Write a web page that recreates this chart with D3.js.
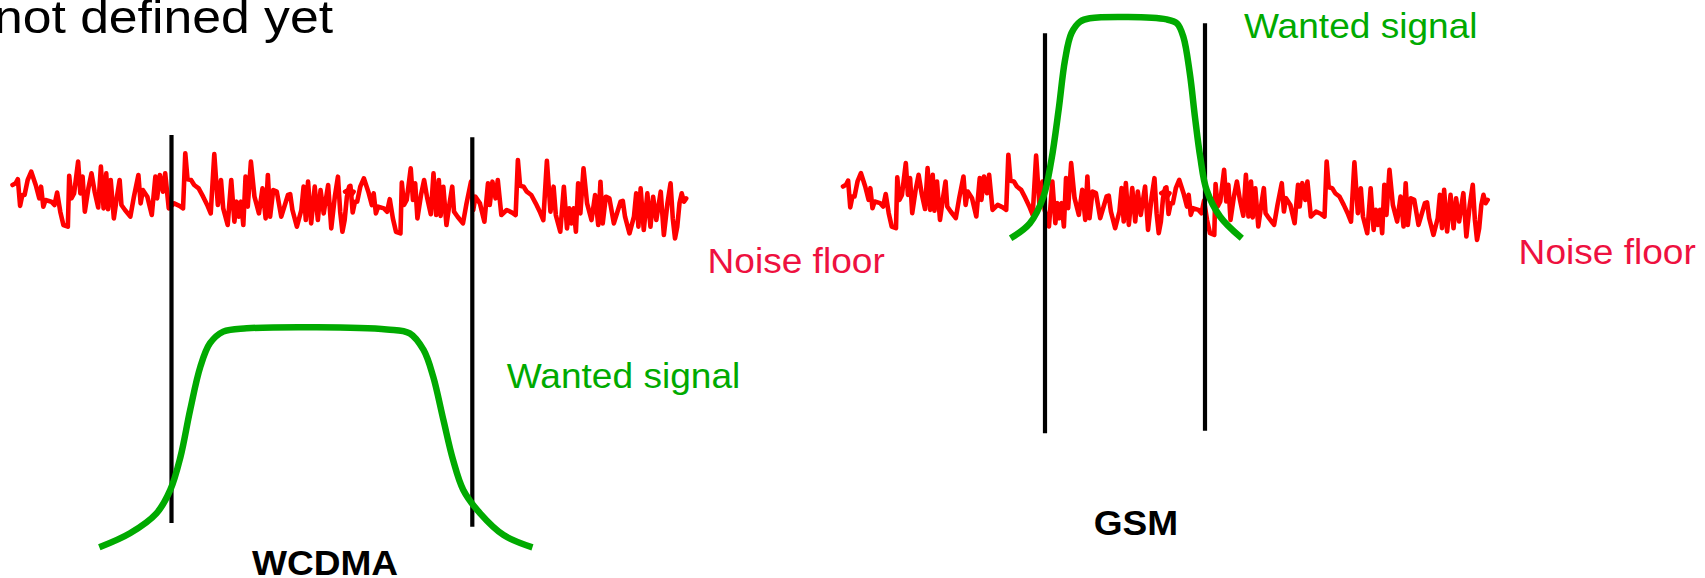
<!DOCTYPE html>
<html><head><meta charset="utf-8">
<script src="https://cdn.jsdelivr.net/npm/d3@7"></script>
<style>html,body{margin:0;padding:0;background:#fff;overflow:hidden}</style>
</head><body><svg id="c" width="1705" height="578"></svg>
<script>
// ---------- data ----------
// one noise trace tile (position within tile, relative level); it is repeated twice per panel
const noiseTileX = [0,7,12,17,22,27,34,42,52,60,64,69,74,87,94,100,107,114,124,127,132,138,147,152,157,162,170,177,184,192,198,204,210,214,220,227,234,240,244,252,264,272,282,287,292,302,312,320,324,330,337,342,350,362,374,382,387,392,400,407,417,427,437,444,452,460,467,472,482,490,497,502,507,512,517,522,527,534,542,552,560,567,572,577,584,592,602,617,622,627,637,647,652,657,662,669,677,684,690,697,707,714,722,729,734,739,744,749,754,759,764];
const noiseLevel = [62,64,69,37,50,50,68,78,62,46,60,36,44,42,38,53,30,14,12,73,46,52,90,52,72,30,58,76,54,35,84,34,76,33,68,22,48,68,38,32,24,48,74,40,56,48,26,72,46,74,54,76,34,40,37,34,100,69,68,62,58,48,37,28,99,38,68,34,14,68,18,42,24,42,14,72,36,90,48,28,58,22,74,24,56,54,24,50,51,32,12,32,60,20,66,16,60,20,56,28,62,10,48,72,30,6,20,48,60,50,54];
const tileSpan = 745;
const tileCopies = [0, 1];

// wanted signal spectra (frequency offset from channel centre in MHz, relative level)
const wcdmaFreq  = [-3.70,-3.19,-2.75,-2.52,-2.35,-2.19,-2.02,-1.86,-1.64,-1.25,1.08,1.46,1.69,1.85,2.02,2.18,2.35,2.63,3.02,3.50];
const wcdmaLevel = [0.0,0.64,1.55,2.62,4.14,6.27,8.25,9.32,9.85,10.0,9.95,9.77,9.01,7.79,5.81,3.99,2.62,1.55,0.56,0.0];
const gsmFreq  = [-0.143,-0.119,-0.102,-0.092,-0.083,-0.075,-0.067,-0.056,-0.044,0.052,0.065,0.073,0.081,0.0875,0.094,0.102,0.119,0.146];
const gsmLevel = [0.0,0.68,1.89,3.56,5.83,8.10,9.32,9.85,10.0,9.95,9.77,9.15,7.5,5.5,3.71,2.20,0.98,0.0];

// channel edges (MHz offset)
const wcdmaEdges = [-2.5, 2.5];
const gsmEdges = [-0.1, 0.1];

// texts
const systemNames = ["WCDMA", "GSM"];
const noiseLabel = "Noise floor";
const signalLabel = "Wanted signal";
const headerText = "not defined yet";

// ---------- drawing ----------
const svg = d3.select("#c");
svg.append("rect").attr("width",1705).attr("height",578).attr("fill","#fff");
const FONT = "'Liberation Sans', Arial, Helvetica, sans-serif";
const RED = "#ff0000", GREEN = "#00aa00", TXT_RED = "#ee1140";

const panels = [
  { name: systemNames[0], freq: wcdmaFreq, level: wcdmaLevel, edges: wcdmaEdges,
    noiseX: d3.scaleLinear().domain([0, tileSpan]).range([12.5, 345.1]),
    noiseY: [d3.scaleLinear().domain([0,100]).range([236.7,153.3]), d3.scaleLinear().domain([0,100]).range([243.4,160.0])],
    sigX: d3.scaleLinear().domain([-2.5, 2.5]).range([171.5, 472.3]),
    sigY: d3.scaleLinear().domain([0,10]).range([547.3, 328.3]),
    edgeTop: [135, 137.3], edgeBot: [523, 526.7],
    noiseLab: [707.5, 272.7], sigLab: [506.7, 388.3], nameLab: [325, 575] },
  { name: systemNames[1], freq: gsmFreq, level: gsmLevel, edges: gsmEdges,
    noiseX: d3.scaleLinear().domain([0, tileSpan]).range([843, 1161.3]),
    noiseY: [d3.scaleLinear().domain([0,100]).range([238.2,154.8]), d3.scaleLinear().domain([0,100]).range([244.9,161.5])],
    sigX: d3.scaleLinear().domain([-0.1, 0.1]).range([1045, 1205]),
    sigY: d3.scaleLinear().domain([0,10]).range([238.3, 18.3]),
    edgeTop: [33.3, 23.3], edgeBot: [433.3, 430.7],
    noiseLab: [1518.6, 264.3], sigLab: [1244, 38.3], nameLab: [1136, 535] }
];

const noisePts = noiseTileX.map((x,i)=>({x, y: noiseLevel[i]}));

panels.forEach(p => {
  const g = svg.append("g");
  // noise floor trace, two tiles
  tileCopies.forEach(c => {
    const line = d3.line()
      .x(d => p.noiseX(d.x + c*tileSpan))
      .y(d => p.noiseY[c](d.y));
    g.append("path").attr("d", line(noisePts))
      .attr("fill","none").attr("stroke",RED).attr("stroke-width",4.6)
      .attr("stroke-linejoin","round").attr("stroke-linecap","round");
  });
  // channel edges
  p.edges.forEach((e,i) => {
    g.append("line")
      .attr("x1", p.sigX(e)).attr("x2", p.sigX(e))
      .attr("y1", p.edgeTop[i]).attr("y2", p.edgeBot[i])
      .attr("stroke","#000").attr("stroke-width",4.2);
  });
  // wanted signal
  const sig = p.freq.map((f,i)=>({f, l: p.level[i]}));
  const sline = d3.line().x(d=>p.sigX(d.f)).y(d=>p.sigY(d.l)).curve(d3.curveCatmullRom.alpha(0.5));
  g.append("path").attr("d", sline(sig))
    .attr("fill","none").attr("stroke",GREEN).attr("stroke-width",6.5).attr("stroke-linecap","butt");

  // labels
  const addText = (txt, pos, color, weight, anchor) => {
    g.append("text").text(txt)
      .attr("transform", `translate(${pos[0]},${pos[1]}) scale(1.06,1)`)
      .attr("font-family", FONT).attr("font-size", 35)
      .attr("font-weight", weight).attr("fill", color)
      .attr("text-anchor", anchor);
  };
  addText(noiseLabel, p.noiseLab, TXT_RED, "normal", "start");
  addText(signalLabel, p.sigLab, GREEN, "normal", "start");
  addText(p.name, p.nameLab, "#000", "bold", "middle");
});

svg.append("text").text(headerText)
  .attr("transform","translate(333,33) scale(1.1,1)")
  .attr("font-family", FONT).attr("font-size", 47)
  .attr("fill","#000").attr("text-anchor","end");
</script>
</body></html>
